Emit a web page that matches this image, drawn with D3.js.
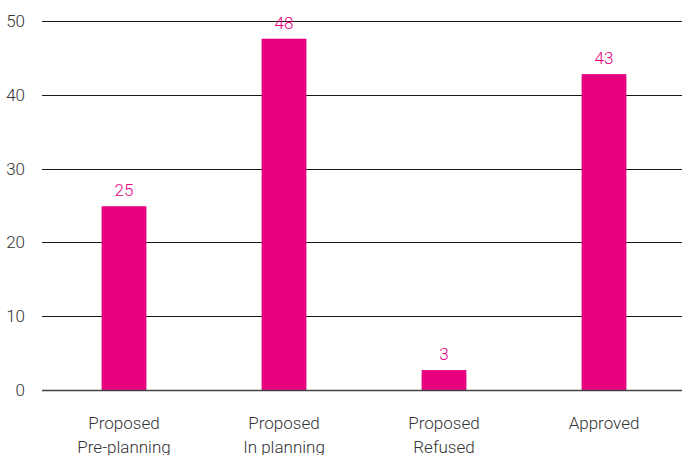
<!DOCTYPE html>
<html>
<head>
<meta charset="utf-8">
<script src="https://cdn.jsdelivr.net/npm/d3@7"></script>
<style>
  body { margin: 0; background: #fff; }
  text { font-family: Roboto, "Liberation Sans", sans-serif; font-weight: 300; }
</style>
</head>
<body>
<div id="chart"></div>
<script>
// chart data
var categories = [["Proposed", "Pre-planning"], ["Proposed", "In planning"], ["Proposed", "Refused"], ["Approved"]];
var values = [24.9, 47.6, 2.7, 42.8];
var yTicks = [0, 10, 20, 30, 40, 50];

var svgWidth = 682;
var svgHeight = 455;

var margin = { top: 21, right: 0, bottom: 65, left: 42 };
var chartWidth = svgWidth - margin.left - margin.right;
var chartHeight = svgHeight - margin.top - margin.bottom;

var svg = d3.select("#chart")
  .append("svg")
  .attr("width", svgWidth)
  .attr("height", svgHeight);

var chartGroup = svg.append("g")
  .attr("transform", `translate(${margin.left}, ${margin.top})`);

var xScale = d3.scaleBand()
  .domain(d3.range(categories.length))
  .range([2, chartWidth + 2])
  .paddingInner(0.72)
  .paddingOuter(0.36);

var yScale = d3.scaleLinear()
  .domain([0, 50])
  .range([chartHeight, 0]);

// gridlines
chartGroup.selectAll(".grid")
  .data(yTicks.filter(d => d > 0))
  .enter()
  .append("line")
  .attr("x1", 0)
  .attr("x2", chartWidth)
  .attr("y1", d => Math.round(yScale(d)) + 0.5)
  .attr("y2", d => Math.round(yScale(d)) + 0.5)
  .attr("stroke", "#1a1a1a")
  .attr("stroke-width", 1);

// y labels
chartGroup.selectAll(".ylab")
  .data(yTicks)
  .enter()
  .append("text")
  .attr("x", -17)
  .attr("y", d => yScale(d) + 6)
  .attr("text-anchor", "end")
  .attr("font-size", 17)
  .attr("fill", "#333")
  .text(d => d);

// bars
chartGroup.selectAll("rect")
  .data(values)
  .enter()
  .append("rect")
  .attr("x", (d, i) => xScale(i))
  .attr("y", d => yScale(d))
  .attr("width", xScale.bandwidth())
  .attr("height", d => chartHeight - yScale(d))
  .attr("fill", "#e6007e");

// baseline
chartGroup.append("line")
  .attr("x1", 0)
  .attr("x2", chartWidth)
  .attr("y1", chartHeight + 0.5)
  .attr("y2", chartHeight + 0.5)
  .attr("stroke", "#444")
  .attr("stroke-width", 1.5);

// value labels
chartGroup.selectAll(".vlab")
  .data(values)
  .enter()
  .append("text")
  .attr("x", (d, i) => xScale(i) + xScale.bandwidth() / 2)
  .attr("y", d => yScale(d) - 10)
  .attr("text-anchor", "middle")
  .attr("font-size", 17)
  .attr("fill", "#e6007e")
  .text(d => d3.format(".0f")(d));

// category labels
var catLabels = chartGroup.selectAll(".clab")
  .data(categories)
  .enter()
  .append("text")
  .attr("text-anchor", "middle")
  .attr("font-size", 17)
  .attr("fill", "#333")
  .attr("transform", (d, i) => `translate(${xScale(i) + xScale.bandwidth() / 2}, ${chartHeight + 39})`);

catLabels.selectAll("tspan")
  .data(d => d)
  .enter()
  .append("tspan")
  .attr("x", 0)
  .attr("dy", (d, i) => i === 0 ? 0 : 24)
  .text(d => d);
</script>
</body>
</html>
